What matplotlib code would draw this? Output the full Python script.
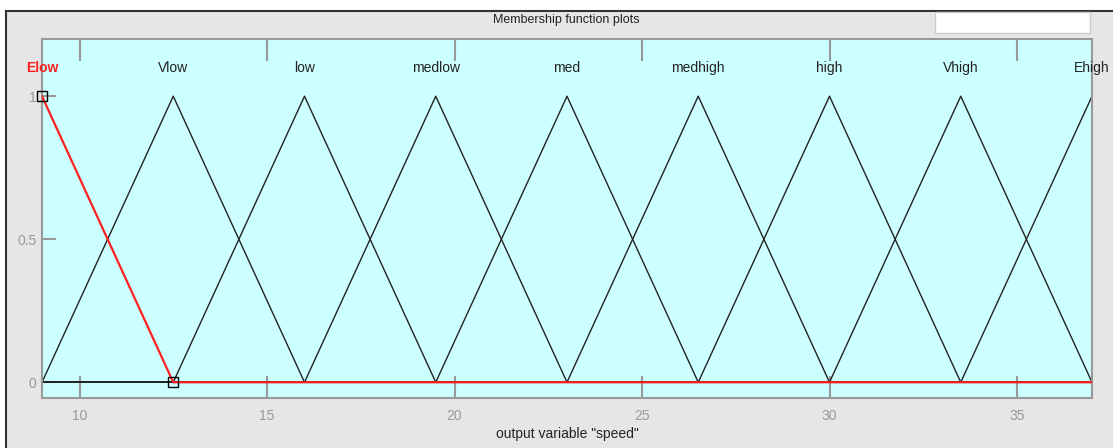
import numpy as np
import matplotlib.pyplot as plt
from matplotlib.patches import Rectangle

# membership functions of output variable "speed" (trimf params a, b, c)
mf_names = ['Elow', 'Vlow', 'low', 'medlow', 'med', 'medhigh', 'high', 'Vhigh', 'Ehigh']
mf_params = [
    [5.5, 9, 12.5],
    [9, 12.5, 16],
    [12.5, 16, 19.5],
    [16, 19.5, 23],
    [19.5, 23, 26.5],
    [23, 26.5, 30],
    [26.5, 30, 33.5],
    [30, 33.5, 37],
    [33.5, 37, 40.5],
]
selected = 0
x_range = [9, 37]


def trimf(x, a, b, c):
    y = np.minimum((x - a) / (b - a), (c - x) / (c - b))
    return np.clip(y, 0, 1)


plt.rcParams['font.family'] = ['Liberation Sans Narrow', 'Liberation Sans', 'DejaVu Sans']

fig = plt.figure(figsize=(11.13, 4.48), dpi=100)
fig.patch.set_facecolor('white')

# grey panel with dark frame on top/left
fig.add_artist(Rectangle((6 / 1113, 0), 1, (448 - 11) / 448, transform=fig.transFigure,
                         facecolor='#e6e6e6', edgecolor='none', zorder=-10))
fig.add_artist(plt.Line2D([6 / 1113, 1], [(448 - 11) / 448] * 2, color='#333333', lw=1.5,
                          transform=fig.transFigure, zorder=-5))
fig.add_artist(plt.Line2D([6 / 1113] * 2, [0, (448 - 11) / 448], color='#333333', lw=1.5,
                          transform=fig.transFigure, zorder=-5))
# empty white box top right
fig.add_artist(Rectangle((935 / 1113, (448 - 33) / 448), 155 / 1113, 21 / 448,
                         transform=fig.transFigure, facecolor='white',
                         edgecolor='#cccccc', lw=1, zorder=-5))

fig.text(566 / 1113, (448 - 20) / 448, 'Membership function plots', ha='center', va='center',
         fontsize=9, color='#222222')

ax = fig.add_axes([42 / 1113, 50 / 448, 1050 / 1113, 359 / 448])
ax.set_facecolor('#ccffff')

x = np.linspace(x_range[0], x_range[1], 2001)
for i, (name, p) in enumerate(zip(mf_names, mf_params)):
    if i == selected:
        continue
    ax.plot(x, trimf(x, *p), color='#222222', lw=1, zorder=2)
    ax.text(p[1], 1.10, name, ha='center', va='center', fontsize=10, color='#222222',
            clip_on=False)

p = mf_params[selected]
ax.plot(x, trimf(x, *p), color='#ff2020', lw=1.6, zorder=3)
ax.plot([p[1], p[2]], [1, 0], linestyle='none', marker='s', markersize=7,
        markerfacecolor='none', markeredgecolor='black', markeredgewidth=1, zorder=4,
        clip_on=False)
ax.text(p[1], 1.10, mf_names[selected], ha='center', va='center', fontsize=10,
        color='#ff2020', fontweight='bold', clip_on=False)

ax.set_xlim(x_range)
ax.set_ylim(-0.055, 1.2)
ax.set_xticks([10, 15, 20, 25, 30, 35])
ax.set_yticks([0, 0.5, 1])
ax.set_yticklabels(['0', '0.5', '1'])
ax.tick_params(axis='x', direction='in', length=16, width=1.5, color='#999999',
               labelcolor='#999999', labelsize=10, top=True, pad=8)
ax.tick_params(axis='y', direction='in', length=10, width=1.5, color='#999999',
               labelcolor='#999999', labelsize=10, pad=4)
for s in ax.spines.values():
    s.set_color('#999999')
    s.set_linewidth(1.5)

ax.set_xlabel('output variable "speed"', fontsize=10, color='#222222', labelpad=3)

fig.savefig('out.png', dpi=100)
